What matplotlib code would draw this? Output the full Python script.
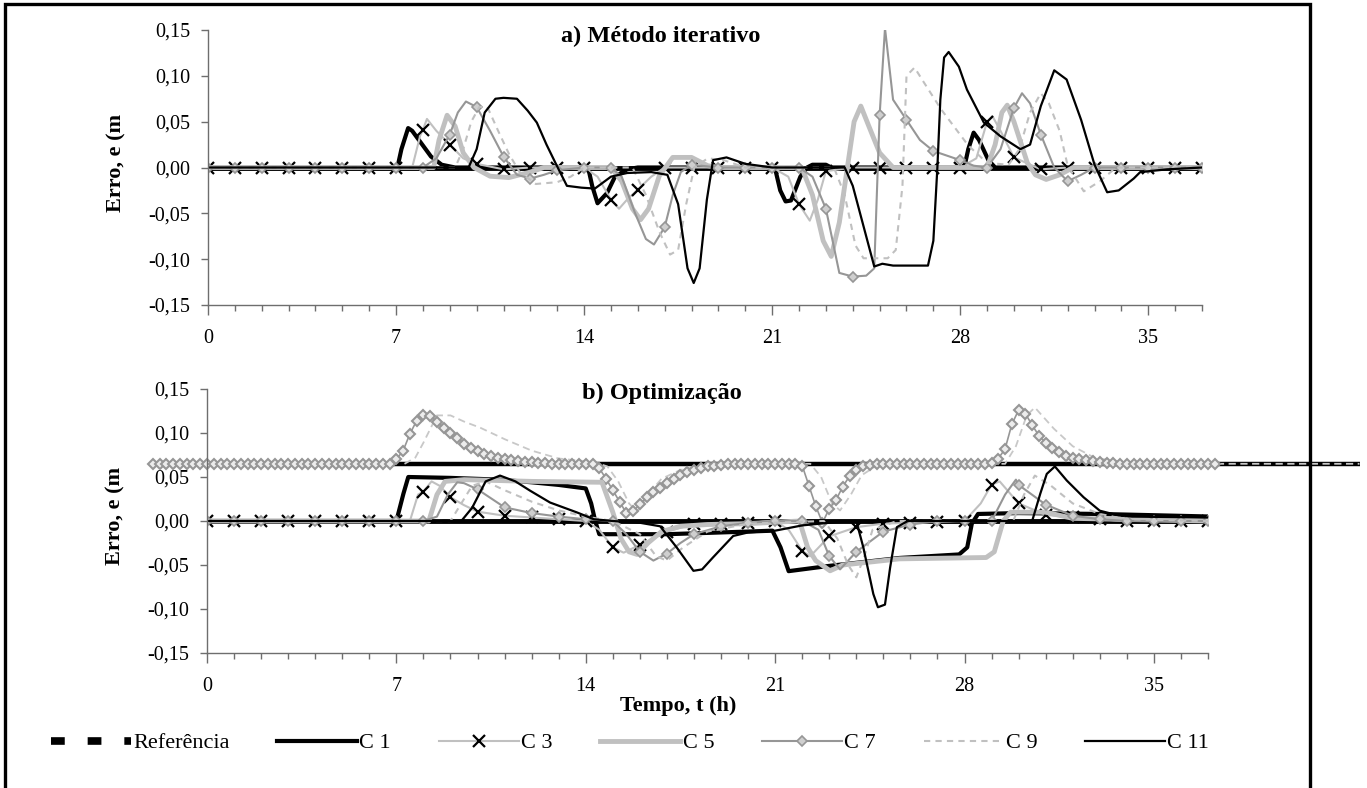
import matplotlib
matplotlib.use("Agg")
import matplotlib.pyplot as plt
import numpy as np
from matplotlib.lines import Line2D
from matplotlib.patches import Rectangle
from matplotlib.ticker import FuncFormatter, MultipleLocator

plt.rcParams["font.family"] = ["Liberation Serif", "DejaVu Serif"]

# (t [h], e [m]) pairs ---------------------------------------------------
# a) Método iterativo
REF_TOP = [(0, 0.0), (37, 0.0)]
C1_TOP = [(0, 0), (7.05, 0), (7.2, 0.02), (7.45, 0.043), (7.6, 0.04), (7.9, 0.028),
          (8.3, 0.012), (8.7, 0.003), (9.2, 0), (14.15, 0), (14.3, -0.02), (14.5, -0.039),
          (14.85, -0.028), (15.15, -0.01), (15.6, -0.002), (16, 0), (21.1, 0), (21.3, -0.025),
          (21.5, -0.037), (21.7, -0.036), (22.05, -0.01), (22.3, 0), (22.5, 0.003), (23.0, 0.003),
          (23.2, 0), (28.15, 0), (28.3, 0.02), (28.5, 0.038), (28.7, 0.03), (29.05, 0.008),
          (29.3, 0), (37, 0)]
C3_TOP = [(0, 0), (1, 0), (2, 0), (3, 0), (4, 0), (5, 0), (6, 0), (7, 0), (7.6, 0),
          (7.9, 0.035), (8, 0.041), (8.15, 0.053), (8.5, 0.04), (9, 0.025), (9.5, 0.01),
          (10, 0.004), (11, -0.002), (12, 0), (13, 0), (14, 0), (14.5, -0.01), (15, -0.035),
          (15.3, -0.045), (15.6, -0.035), (16, -0.024), (16.5, -0.01), (17, 0), (18, 0), (19, 0),
          (20, 0), (21, 0), (21.6, -0.01), (22, -0.04), (22.4, -0.058), (22.7, -0.035),
          (23, -0.004), (24, 0), (25, 0), (26, 0), (27, 0), (28, 0), (28.6, 0.01), (29, 0.05),
          (29.2, 0.056), (29.5, 0.04), (30, 0.011), (31, -0.002), (32, 0), (33, 0), (34, 0),
          (35, 0), (36, 0), (37, 0)]
C5_TOP = [(0, 0), (8.4, 0), (8.6, 0.03), (8.9, 0.057), (9.2, 0.045), (9.5, 0.016), (9.9, 0),
          (10.5, -0.0095), (11.2, -0.011), (12, -0.005), (12.5, 0), (15.0, 0), (15.4, -0.015),
          (15.8, -0.045), (16.1, -0.057), (16.4, -0.045), (16.8, -0.009), (17.3, 0.011),
          (18, 0.011), (18.6, 0.002), (19, 0), (22.1, 0), (22.5, -0.03), (22.9, -0.08),
          (23.2, -0.097), (23.5, -0.06), (23.8, 0), (24.05, 0.05), (24.3, 0.067), (24.6, 0.045),
          (25, 0.016), (25.5, 0), (29.0, 0), (29.3, 0.025), (29.55, 0.06), (29.75, 0.068),
          (30.0, 0.05), (30.5, 0.005), (30.8, -0.008), (31.2, -0.013), (31.7, -0.008),
          (32.2, 0), (37, 0)]
C7_TOP = [(0, 0), (1, 0), (2, 0), (3, 0), (4, 0), (5, 0), (6, 0), (7, 0), (8, 0), (8.5, 0.01),
          (9, 0.036), (9.3, 0.06), (9.6, 0.072), (10, 0.066), (10.5, 0.04), (11, 0.012),
          (11.5, -0.008), (12, -0.012), (12.5, -0.008), (13, -0.003), (14, 0), (15, 0),
          (15.4, -0.01), (15.9, -0.05), (16.3, -0.078), (16.6, -0.084), (17, -0.065),
          (17.3, -0.03), (17.6, -0.005), (18, 0.003), (19, 0), (20, 0), (21, 0), (22, 0),
          (22.5, -0.01), (23, -0.045), (23.5, -0.115), (24, -0.119), (24.5, -0.118),
          (24.8, -0.11), (25, 0.057), (25.2, 0.152), (25.5, 0.074), (26, 0.052), (26.5, 0.03),
          (27, 0.018), (28, 0.008), (28.5, 0.002), (29, 0), (29.5, 0.02), (30, 0.065),
          (30.3, 0.081), (30.6, 0.07), (31, 0.036), (31.5, 0.0), (32, -0.015), (32.5, -0.008),
          (33, 0), (34, 0), (35, 0), (36, 0), (37, 0)]
C9_TOP = [(0, 0), (9.2, 0), (9.5, 0.02), (9.8, 0.05), (10.1, 0.066), (10.4, 0.066),
          (10.8, 0.04), (11.2, 0.015), (11.6, -0.005), (12.2, -0.018), (13, -0.016),
          (13.5, -0.01), (14, 0), (15.8, 0), (16.3, -0.03), (16.8, -0.07), (17.2, -0.095),
          (17.5, -0.09), (17.8, -0.04), (18.1, 0), (18.6, 0.01), (19.2, 0.008), (20, 0),
          (23.3, 0), (23.7, -0.03), (24.1, -0.085), (24.4, -0.099), (25.3, -0.099),
          (25.6, -0.09), (25.85, -0.02), (26.0, 0.1), (26.3, 0.109), (26.6, 0.095),
          (27.3, 0.063), (28.3, 0.024), (29.0, 0.005), (29.8, 0.003), (30.2, 0.02),
          (30.6, 0.06), (31.0, 0.081), (31.3, 0.07), (31.7, 0.04), (32.0, 0.002),
          (32.6, -0.026), (33.2, -0.015), (33.8, 0), (37, 0)]
C11_TOP = [(0, 0), (9.7, 0), (10.0, 0.02), (10.3, 0.06), (10.7, 0.075), (11.0, 0.076),
           (11.5, 0.075), (11.9, 0.062), (12.24, 0.049), (12.6, 0.025), (13.0, 0.001),
           (13.36, -0.02), (13.9, -0.022), (14.4, -0.023), (15.0, -0.01), (15.6, -0.006),
           (16.5, -0.005), (17.1, -0.008), (17.5, -0.04), (17.85, -0.11), (18.08, -0.126),
           (18.3, -0.11), (18.57, -0.035), (18.8, 0.008), (19.3, 0.011), (20.0, 0.004),
           (21, 0), (23.7, 0), (24.0, -0.02), (24.3, -0.053), (24.8, -0.108), (25.1, -0.105),
           (25.5, -0.107), (26.8, -0.107), (27.0, -0.08), (27.15, 0.0), (27.26, 0.074),
           (27.4, 0.12), (27.57, 0.126), (27.95, 0.11), (28.25, 0.085), (28.88, 0.049),
           (29.5, 0.034), (30.24, 0.02), (30.6, 0.025), (31.0, 0.067), (31.5, 0.106),
           (31.96, 0.096), (32.5, 0.052), (33.0, 0.003), (33.47, -0.027), (33.9, -0.025),
           (34.46, -0.012), (34.7, -0.005), (35.7, -0.002), (37, 0)]

# b) Optimização
REF_BOT = [(0, 0.0), (37, 0.0)]
REF_BOT_SHIFTED = [(0, 0.065), (42.6, 0.065)]
C1_BOT = [(0, 0), (7.0, 0), (7.26, 0.031), (7.44, 0.05), (9, 0.049), (10.8, 0.047),
          (12, 0.044), (13, 0.041), (14.0, 0.037), (14.2, 0.02), (14.35, 0), (14.5, -0.015),
          (17, -0.015), (20, -0.012), (20.9, -0.011), (21.2, -0.03), (21.5, -0.057),
          (22, -0.055), (23, -0.051), (25.6, -0.042), (27.8, -0.038), (28.1, -0.03),
          (28.27, -0.003), (28.5, 0.008), (30, 0.009), (33, 0.008), (37.2, 0.005)]
C3_BOT = [(0, 0), (1, 0), (2, 0), (3, 0), (4, 0), (5, 0), (6, 0), (7, 0), (7.5, 0),
          (7.8, 0.03), (8, 0.0334), (8.3, 0.045), (8.6, 0.04), (9, 0.027), (9.5, 0.018),
          (10, 0.0106), (11, 0.006), (12, 0.004), (13, 0.002), (14, 0), (14.5, -0.01),
          (15, -0.03), (15.4, -0.036), (16, -0.027), (16.5, -0.02), (17, -0.012), (18, -0.0035),
          (19, -0.003), (20, -0.002), (21, 0), (21.5, -0.01), (22, -0.034), (22.3, -0.04),
          (23, -0.0175), (24, -0.007), (25, -0.003), (26, -0.002), (27, -0.001), (28, 0),
          (28.6, 0.02), (29, 0.0413), (29.3, 0.045), (30, 0.02), (31, 0.007), (32, 0.004),
          (33, 0.002), (34, 0), (35, 0), (36, 0), (37, 0)]
C5_BOT = [(0, 0), (8.2, 0), (8.5, 0.03), (8.8, 0.045), (9.5, 0.047), (12, 0.045),
          (14.6, 0.044), (15.0, 0.01), (15.3, -0.02), (15.6, -0.035), (15.9, -0.038),
          (16.3, -0.025), (16.8, -0.012), (17.5, -0.006), (18.5, -0.004), (20, -0.003),
          (21.9, 0), (22.2, -0.03), (22.5, -0.045), (23.03, -0.0566), (23.5, -0.05),
          (25.6, -0.043), (28.8, -0.0415), (29.1, -0.035), (29.43, 0), (29.7, 0.01),
          (31, 0.01), (32, 0.003), (37, 0)]
C7_BOT = [(0, 0), (1, 0), (2, 0), (3, 0), (4, 0), (5, 0), (6, 0), (7, 0), (8, 0), (8.5, 0.005),
          (8.9, 0.03), (9.25, 0.044), (9.5, 0.043), (10, 0.036), (11, 0.0155), (12, 0.009),
          (13, 0.005), (14, 0.002), (15, 0), (15.5, -0.015), (16.0, -0.035), (16.5, -0.045),
          (17, -0.037), (17.5, -0.025), (18, -0.015), (19, -0.006), (20, -0.002), (21, 0),
          (22, 0), (22.6, -0.01), (23, -0.04), (23.4, -0.055), (24, -0.035), (25, -0.012),
          (26, -0.004), (27, 0), (28, 0), (29, 0), (29.5, 0.03), (29.9, 0.047), (30, 0.041),
          (31, 0.0186), (32, 0.006), (33, 0.002), (34, 0), (35, 0), (36, 0), (37, 0)]
C9_BOT = [(0, 0), (9.0, 0), (9.4, 0.02), (9.8, 0.04), (10.3, 0.045), (11, 0.035),
          (12, 0.022), (13, 0.012), (14, 0.005), (15, 0), (16, -0.015), (16.6, -0.04),
          (17.0, -0.045), (17.6, -0.03), (18.5, -0.012), (20, -0.003), (22.8, 0),
          (23.3, -0.02), (23.7, -0.05), (24.0, -0.064), (24.3, -0.04), (24.6, -0.01),
          (25.5, 0), (29.8, 0), (30.2, 0.03), (30.6, 0.0516), (31.2, 0.04), (32, 0.02),
          (33, 0.008), (34, 0.002), (37, 0)]
C11_BOT = [(0, 0), (9.4, 0), (9.8, 0.015), (10.3, 0.045), (10.83, 0.0516), (11.4, 0.045),
           (11.94, 0.0345), (12.68, 0.021), (13.67, 0.0098), (14.3, 0.002), (15, 0),
           (16.0, -0.002), (16.75, -0.006), (17.36, -0.03), (17.98, -0.0566), (18.3, -0.055),
           (18.7, -0.0415), (19.45, -0.017), (20, -0.013), (21, -0.011), (22, -0.005),
           (23, -0.002), (24.0, 0), (24.26, -0.03), (24.63, -0.083), (24.8, -0.098),
           (25.06, -0.095), (25.25, -0.053), (25.5, -0.007), (25.9, 0), (30.5, 0),
           (30.8, 0.031), (31.04, 0.0535), (31.34, 0.062), (31.78, 0.046), (32.4, 0.027),
           (33, 0.0117), (33.6, 0.007), (34.2, 0.005), (37, 0.004)]
# shifted copy (around 0.065) drawn with dense hollow diamonds, one point every 15 min
SHIFT_T0, SHIFT_DT = -2.0, 0.25
SHIFT_DIAMONDS = ([0.065] * 36
                  + [0.070, 0.080, 0.099, 0.114, 0.121, 0.119, 0.113, 0.106, 0.100, 0.094,
                     0.088, 0.083, 0.079, 0.076, 0.074, 0.072, 0.070, 0.069, 0.068, 0.067,
                     0.067, 0.066, 0.066, 0.065]
                  + [0.065] * 6
                  + [0.060, 0.048, 0.035, 0.022, 0.009, 0.011, 0.019, 0.027, 0.033, 0.038,
                     0.043, 0.048, 0.052, 0.056, 0.058, 0.060, 0.062, 0.063, 0.064, 0.065]
                  + [0.065] * 10
                  + [0.063, 0.040, 0.017, -0.002, 0.014, 0.024, 0.039, 0.051, 0.058, 0.062,
                     0.064, 0.065]
                  + [0.065] * 16
                  + [0.066, 0.071, 0.082, 0.110, 0.126, 0.122, 0.109, 0.097, 0.089, 0.083,
                     0.078, 0.074, 0.072, 0.070, 0.069, 0.068, 0.067, 0.066, 0.066, 0.065]
                  + [0.065] * 14)
SHIFT_DASHED = [(7.3, 0.065), (7.7, 0.072), (8.0, 0.089), (8.5, 0.12), (9.0, 0.12),
                (9.5, 0.113), (10.1, 0.106), (11.0, 0.093), (12.0, 0.08), (13.0, 0.071),
                (14.3, 0.067), (14.8, 0.062), (15.2, 0.045), (15.6, 0.02), (15.9, 0.01),
                (16.3, 0.03), (16.8, 0.048), (17.5, 0.058), (18.5, 0.064), (19.5, 0.065),
                (22.3, 0.065), (22.7, 0.05), (23.1, 0.02), (23.4, 0.012), (23.8, 0.03),
                (24.2, 0.052), (24.7, 0.062), (25.5, 0.065), (29.5, 0.065), (29.9, 0.085),
                (30.3, 0.12), (30.6, 0.129), (31.3, 0.105), (32.0, 0.085), (32.8, 0.072),
                (34.0, 0.066), (35, 0.065), (42.6, 0.065)]

LABELS = ["Referência", "C 1", "C 3", "C 5", "C 7", "C 9", "C 11"]

LIGHT = "#c0c0c0"
MID = "#969696"
STYLE = {
    "C1": dict(color="black", lw=3.0),
    "C3": dict(color=LIGHT, lw=1.5, marker="x", mec="black", ms=9, mew=1.6),
    "C5": dict(color=LIGHT, lw=3.5),
    "C7": dict(color=MID, lw=1.5, marker="D", mec=MID, mfc="#cfcfcf", ms=5, mew=1.2),
    "C9": dict(color=LIGHT, lw=1.5, ls=(0, (3, 2.5))),
    "C11": dict(color="black", lw=1.6),
}

W, H = 1367, 788


def fig_rect(left, top, right, bottom):
    return [left / W, 1 - bottom / H, (right - left) / W, (bottom - top) / H]


def draw_series(ax, ref, series):
    rt, re_ = zip(*ref)
    ax.plot(rt, re_, color="black", lw=3.5, solid_capstyle="butt")
    for name, pts in series:
        t, e = zip(*pts)
        kw = dict(STYLE[name])
        if "marker" in kw:
            kw["markevery"] = [i for i, v in enumerate(t) if float(v).is_integer()]
        ax.plot(t, e, **kw)


def style_axes(ax):
    ax.set_xlim(0, 37)
    ax.set_ylim(-0.15, 0.15)
    for side in ("top", "right"):
        ax.spines[side].set_visible(False)
    for side in ("left", "bottom"):
        ax.spines[side].set_color("#6e6e6e")
        ax.spines[side].set_linewidth(1.0)
    ax.xaxis.set_major_locator(MultipleLocator(7))
    ax.xaxis.set_minor_locator(MultipleLocator(1))
    ax.yaxis.set_major_locator(MultipleLocator(0.05))
    ax.yaxis.set_major_formatter(FuncFormatter(lambda v, p: f"{v:.2f}".replace(".", ",")))
    ax.tick_params(axis="x", which="major", length=7, width=1, color="#6e6e6e",
                   pad=10, labelsize=14.5)
    ax.tick_params(axis="x", which="minor", length=4, width=1, color="#6e6e6e")
    ax.tick_params(axis="y", length=5, width=1, color="#6e6e6e", pad=8, labelsize=14.5)
    ax.patch.set_alpha(0)


fig = plt.figure(figsize=(W / 100, H / 100), dpi=100)
fig.patches.append(Rectangle((5 / W, -0.05), 1305 / W, 1.05 - 4 / H, transform=fig.transFigure,
                             fill=False, lw=2.4, edgecolor="black", clip_on=False))

ax1 = fig.add_axes(fig_rect(208, 30, 1202, 305))
draw_series(ax1, REF_TOP, [("C1", C1_TOP), ("C3", C3_TOP), ("C5", C5_TOP),
                           ("C7", C7_TOP), ("C9", C9_TOP), ("C11", C11_TOP)])
style_axes(ax1)

ax2 = fig.add_axes(fig_rect(207, 389, 1208, 653))
st, se = zip(*REF_BOT_SHIFTED)
ax2.plot(st, se, color="black", lw=3.2, clip_on=False, solid_capstyle="butt")
dt, de = zip(*SHIFT_DASHED)
ax2.plot(dt, de, color="#c8c8c8", lw=1.3, ls=(0, (4, 2.5)), clip_on=False)
shift_t = SHIFT_T0 + SHIFT_DT * np.arange(len(SHIFT_DIAMONDS))
ax2.plot(shift_t, SHIFT_DIAMONDS, color=MID, lw=1.2, marker="D", ms=5.5, mfc="#ececec",
         mec=MID, mew=1.5, clip_on=False)
draw_series(ax2, REF_BOT, [("C1", C1_BOT), ("C3", C3_BOT), ("C5", C5_BOT),
                           ("C7", C7_BOT), ("C9", C9_BOT), ("C11", C11_BOT)])
style_axes(ax2)

fig.text(661 / W, 1 - 36 / H, "a) Método iterativo", ha="center", va="center",
         fontsize=17.5, fontweight="bold")
fig.text(662 / W, 1 - 393 / H, "b) Optimização", ha="center", va="center",
         fontsize=17.5, fontweight="bold")
fig.text(116 / W, 1 - 163 / H, "Erro, e (m", rotation=90, ha="center", va="center",
         fontsize=16, fontweight="bold")
fig.text(115 / W, 1 - 516 / H, "Erro, e (m", rotation=90, ha="center", va="center",
         fontsize=16, fontweight="bold")
fig.text(678 / W, 1 - 706 / H, "Tempo, t (h)", ha="center", va="center",
         fontsize=16, fontweight="bold")

handles = [
    Line2D([], [], color="black", lw=5.5, ls=(0, (1.8, 3.0)), dash_capstyle="butt"),
    Line2D([], [], **STYLE["C1"]),
    Line2D([], [], **STYLE["C3"]),
    Line2D([], [], **STYLE["C5"]),
    Line2D([], [], **STYLE["C7"]),
    Line2D([], [], **STYLE["C9"]),
    Line2D([], [], **STYLE["C11"]),
]
fig.legend(handles, LABELS, loc="center", bbox_to_anchor=(630 / W, 1 - 743 / H), ncol=7,
           frameon=False, fontsize=16, handlelength=3.6, handletextpad=0.1,
           columnspacing=2.15, numpoints=1)

fig.savefig("out.png", dpi=100)
